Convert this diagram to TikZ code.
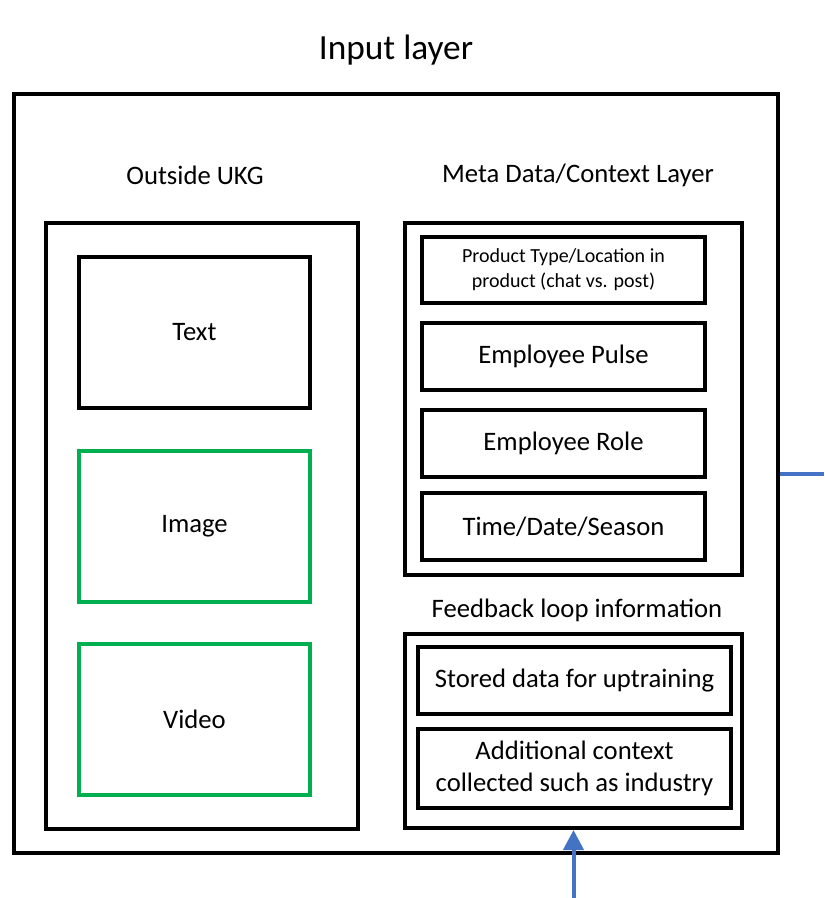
\documentclass[tikz,border=0pt]{standalone}
\usepackage{fontspec}
\setmainfont{Carlito}
\usetikzlibrary{arrows.meta}
\definecolor{grn}{HTML}{00B050}
\definecolor{blu}{HTML}{4472C4}
\begin{document}
\begin{tikzpicture}[x=0.75pt,y=-0.75pt,
  box/.style={draw=black,line width=3pt,rectangle,inner sep=0pt,align=center,font=\fontsize{20}{24}\selectfont},
  gbox/.style={box,draw=grn},
  lbl/.style={inner sep=0pt,font=\fontsize{20}{24}\selectfont},
  conn/.style={draw=blu,line width=3pt}]
\useasboundingbox (0,0) rectangle (824,898);
\node[lbl,font=\fontsize{26.5}{32}\selectfont] (title) at (396,50) {Input layer};
\node[box,minimum width=764*0.75pt,minimum height=759*0.75pt] (outer) at (396,473.5) {};
\node[lbl] (outl) at (195,175) {Outside UKG};
\node[lbl] (metal) at (578,175) {Meta Data/Context Layer};
\node[lbl] (fbl) at (577,610) {Feedback loop information};
\node[box,minimum width=312*0.75pt,minimum height=606*0.75pt] (left) at (202,526) {};
\node[box,minimum width=231*0.75pt,minimum height=151*0.75pt] (text) at (194.5,332.5) {Text};
\node[gbox,minimum width=231*0.75pt,minimum height=151*0.75pt] (image) at (194.5,526.5) {Image};
\node[gbox,minimum width=231*0.75pt,minimum height=151*0.75pt] (video) at (194.5,719.5) {Video};
\node[box,minimum width=337*0.75pt,minimum height=352*0.75pt] (meta) at (573.5,399) {};
\node[box,minimum width=283*0.75pt,minimum height=66*0.75pt,font=\fontsize{15}{18.75}\selectfont] (prod) at (563.5,270) {Product Type/Location in\\product (chat vs. post)};
\node[box,minimum width=283*0.75pt,minimum height=67*0.75pt] (pulse) at (563.5,356.5) {Employee Pulse};
\node[box,minimum width=283*0.75pt,minimum height=67*0.75pt] (role) at (563.5,443.5) {Employee Role};
\node[box,minimum width=283*0.75pt,minimum height=67*0.75pt] (time) at (563.5,526.5) {Time/Date/Season};
\node[box,minimum width=337*0.75pt,minimum height=194*0.75pt] (fb) at (573.5,731) {};
\node[box,minimum width=313*0.75pt,minimum height=67*0.75pt] (stored) at (574.5,680.5) {Stored data for uptraining};
\node[box,minimum width=313*0.75pt,minimum height=79*0.75pt] (addl) at (574.5,768.5) {Additional context\\collected such as industry};
\coordinate (rend) at (824,473.5);
\coordinate (bstart) at (573.5,898);
\draw[conn] (outer.east) -- (rend);
\draw[conn,-{Triangle[width=20*0.75pt,length=20*0.75pt]}] (bstart) -- (fb.south);
\end{tikzpicture}
\end{document}
